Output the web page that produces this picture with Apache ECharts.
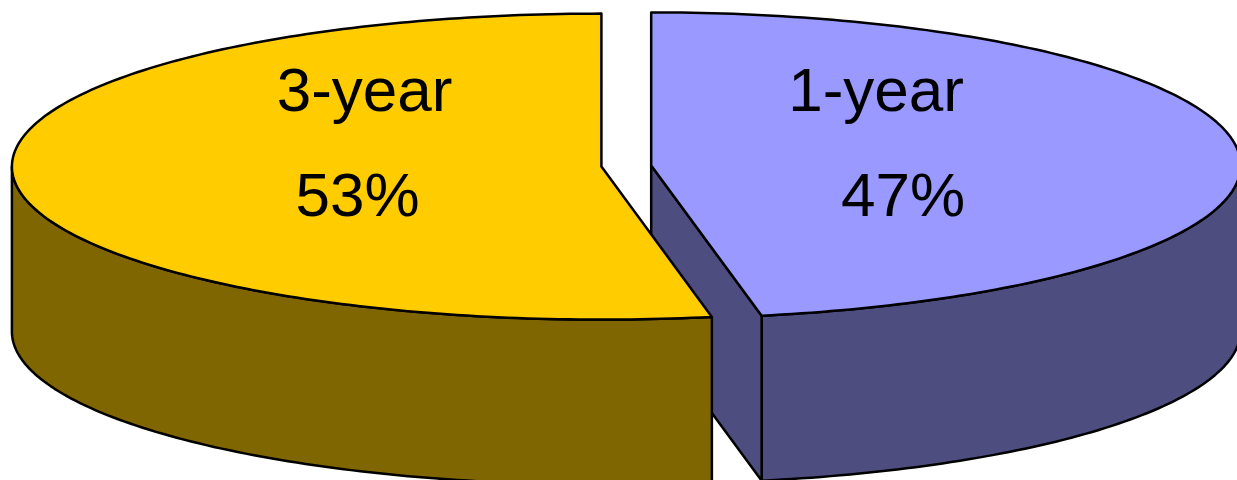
<!DOCTYPE html>
<html>
<head>
<meta charset="utf-8">
<script src="https://cdn.jsdelivr.net/npm/echarts@6/dist/echarts.min.js"></script>
<style>
  html, body { margin: 0; padding: 0; background: #fff; }
  #chart { width: 1237px; height: 480px; }
</style>
</head>
<body>
<div id="chart"></div>
<script>
// pie data, clockwise from 12 o'clock
const categories = ['1-year', '3-year'];
const shares = [47, 53];

const topColors = ['#9999FF', '#FFCC00'];
const sideColors = ['#4D4D80', '#806600'];

// small nudges so each label line sits like the original
const nameShift = { '1-year': -14, '3-year': 2 };
const pctShift = { '1-year': 13, '3-year': -5 };

const total = shares.reduce((a, b) => a + b, 0);
const starts = [];
let acc = 0;
for (let i = 0; i < shares.length; i++) {
  starts.push(acc);
  acc += shares[i];
}

function renderSlice(params, api) {
  const i = params.dataIndex;
  const v = api.value(0);
  const cx0 = 626.3, cy0 = 166, rx = 589.5, ry = 153, depth = 165, explode = 25;
  const s = starts[i] / total * 360;
  const e = (starts[i] + v) / total * 360;
  const mid = (s + e) / 2;
  const rad = d => d * Math.PI / 180;
  const cx = cx0 + explode * Math.sin(rad(mid));
  const cy = cy0 - explode * Math.cos(rad(mid)) * ry / rx;
  const pt = (a, dz) => [cx + rx * Math.sin(rad(a)), cy - ry * Math.cos(rad(a)) + (dz || 0)];
  const arc = (a0, a1, dz) => {
    const pts = [];
    const n = Math.max(2, Math.ceil(Math.abs(a1 - a0)));
    for (let k = 0; k <= n; k++) pts.push(pt(a0 + (a1 - a0) * k / n, dz));
    return pts;
  };
  const line = { stroke: '#000', lineWidth: 2.5, lineJoin: 'round' };
  const children = [];

  // outer wall, front half only (90..270 deg)
  const w0 = Math.max(s, 90), w1 = Math.min(e, 270);
  if (w1 > w0) {
    const pts = arc(w0, w1, 0).concat(arc(w0, w1, depth).reverse());
    children.push({ type: 'polygon', shape: { points: pts },
      style: Object.assign({ fill: sideColors[i] }, line) });
  }
  // cut faces that face the viewer
  const cuts = [[s, s - 90], [e, e + 90]];
  cuts.forEach(c => {
    if (Math.cos(rad(c[1])) < -0.01) {
      const p = pt(c[0], 0);
      children.push({ type: 'polygon',
        shape: { points: [[cx, cy], p, [p[0], p[1] + depth], [cx, cy + depth]] },
        style: Object.assign({ fill: sideColors[i] }, line) });
    }
  });
  // top face
  children.push({ type: 'polygon', shape: { points: [[cx, cy]].concat(arc(s, e, 0)) },
    style: Object.assign({ fill: topColors[i] }, line) });

  // labels
  const name = categories[i];
  const lx = cx + 0.407 * rx * Math.sin(rad(mid));
  const font = { fill: '#000', fontSize: 62, fontFamily: 'Liberation Sans, Arial, sans-serif',
    align: 'center', verticalAlign: 'middle' };
  children.push({ type: 'text', style: Object.assign({ text: name, x: lx + nameShift[name], y: cy0 - 72.5 }, font) });
  children.push({ type: 'text', style: Object.assign({ text: Math.round(v / total * 100) + '%',
    x: lx + pctShift[name], y: cy0 + 32.5 }, font) });

  return { type: 'group', children: children };
}

const chart = echarts.init(document.getElementById('chart'));
const option = {
  backgroundColor: '#fff',
  animation: false,
  series: [{
    type: 'custom',
    coordinateSystem: 'none',
    renderItem: renderSlice,
    data: shares.map((v, i) => ({ name: categories[i], value: [v] }))
  }]
};
chart.setOption(option);
window.addEventListener('resize', function () {
  chart.resize();
});
</script>
</body>
</html>
